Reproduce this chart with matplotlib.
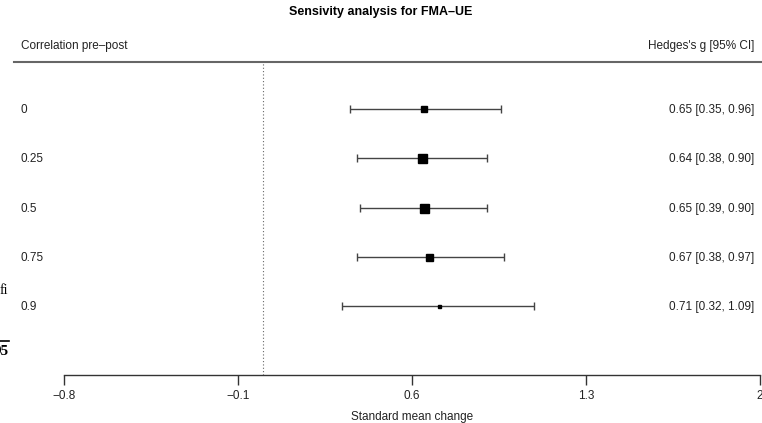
import matplotlib
matplotlib.use("Agg")
from matplotlib import pyplot as plt
from matplotlib.lines import Line2D

plt.rcParams['font.family'] = ['Liberation Sans', 'DejaVu Sans']

# data
correlations = ["0", "0.25", "0.5", "0.75", "0.9"]
g = [0.65, 0.64, 0.65, 0.67, 0.71]
ci_low = [0.35, 0.38, 0.39, 0.38, 0.32]
ci_high = [0.96, 0.90, 0.90, 0.97, 1.09]
marker_px = [6, 9, 9, 7, 3]   # square size (weights)
xticks = [-0.8, -0.1, 0.6, 1.3, 2.0]
xtick_labels = ["\u22120.8", "\u22120.1", "0.6", "1.3", "2"]

W, H = 762, 423
fig = plt.figure(figsize=(W / 100, H / 100), dpi=100)

# axes spans the plot region: x from 64 to 760 px, y from 62 to 375 px
ax = fig.add_axes([64 / W, 1 - 375 / H, 696 / W, (375 - 62) / H])
ax.set_xlim(-0.8, 2.0)
ax.set_ylim(-0.38, 5.975)

rows = [5 - i for i in range(len(g))]

# reference line at 0
ax.plot([0, 0], [-0.38, 5.975], ls=(0, (1, 2)), color="#666666", lw=0.8)

for lab, y, est, lo, hi, ms in zip(correlations, rows, g, ci_low, ci_high, marker_px):
    ax.errorbar(est, y + 0.02, xerr=[[est - lo], [hi - est]], fmt="none",
                ecolor="#444444", elinewidth=1.0, capsize=3, capthick=1.0)
    ax.plot(est, y + 0.02, marker="s", color="black", ms=ms * 0.72, ls="none")
    ax.text(-0.973, y, lab, ha="left", va="center", fontsize=8.5,
            color="#222222", clip_on=False)
    ax.text(1.976, y, f"{est:.2f} [{lo:.2f}, {hi:.2f}]", ha="right",
            va="center", fontsize=8.5, color="#222222", clip_on=False)

# axis styling
for s in ["top", "right", "left"]:
    ax.spines[s].set_visible(False)
ax.spines["bottom"].set_color("#333333")
ax.spines["bottom"].set_linewidth(1.0)
ax.set_yticks([])
ax.set_xticks(xticks)
ax.set_xticklabels(xtick_labels, fontsize=8.5, color="#222222")
ax.tick_params(axis="x", direction="out", length=7, width=1.0, color="#333333", pad=4)
ax.set_xlabel("Standard mean change", fontsize=8.5, color="#222222", labelpad=6)

# header and top rule
fig.text(381 / W, 1 - 12 / H, "Sensivity analysis for FMA\u2013UE", ha="center",
         va="center", fontsize=9, fontweight="bold")
fig.text(21 / W, 1 - 46 / H, "Correlation pre\u2013post", ha="left", va="center",
         fontsize=8.5, color="#222222")
fig.text(754 / W, 1 - 46 / H, "Hedges's g [95% CI]", ha="right", va="center",
         fontsize=8.5, color="#222222")
fig.add_artist(Line2D([14 / W, 1], [1 - 62 / H, 1 - 62 / H], color="#666666", lw=1.5))

# cropped leftovers on the left edge
fig.text(8 / W, 1 - 290 / H, "fi", ha="right", va="center", fontsize=10,
         family="Liberation Serif")
fig.text(9 / W, 1 - 351 / H, "95", ha="right", va="center", fontsize=11,
         family="Liberation Serif", fontweight="bold")
fig.add_artist(Line2D([0, 9 / W], [1 - 341 / H, 1 - 341 / H], color="black", lw=1.2))

fig.savefig("out.png", dpi=100)
